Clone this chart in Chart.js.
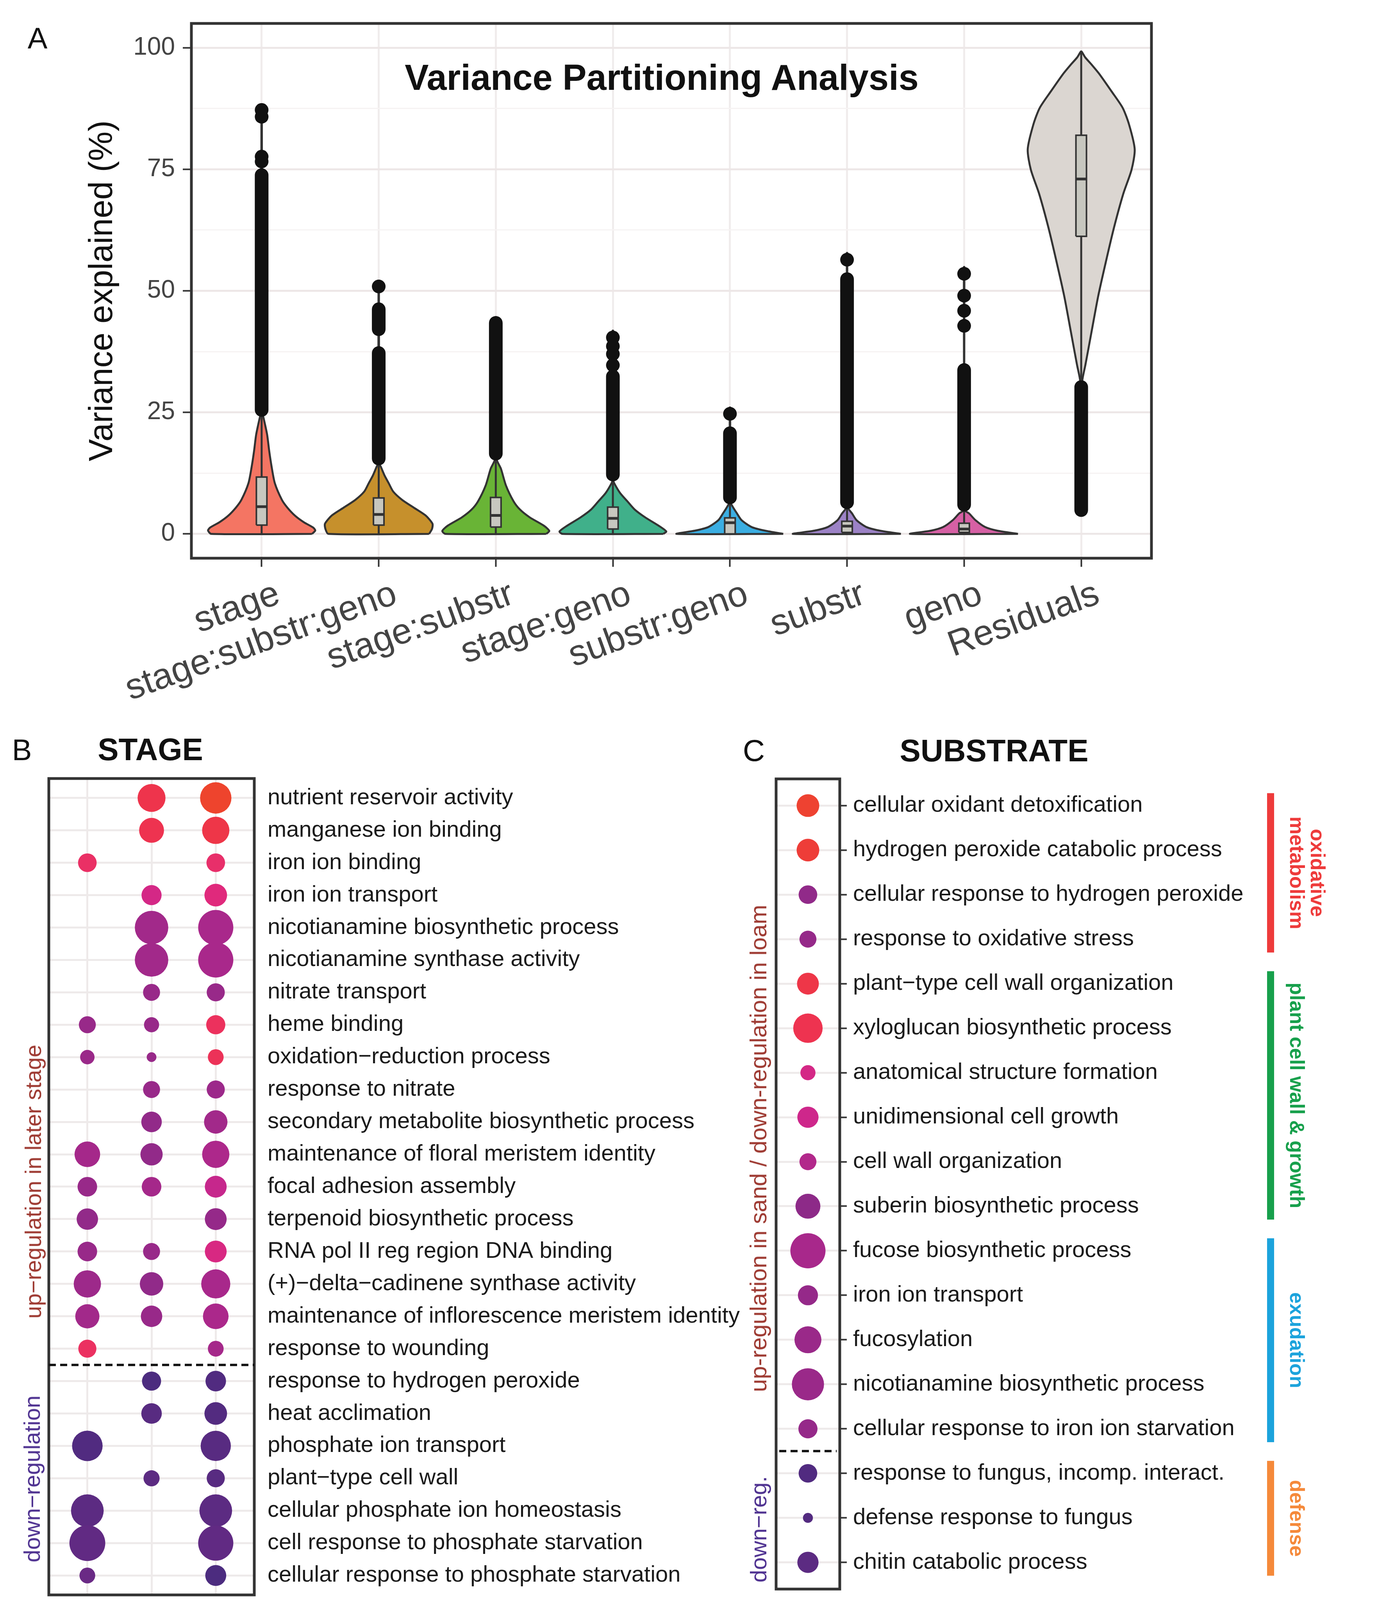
<!DOCTYPE html>
<html lang="en">
<head>
<meta charset="utf-8">
<title>Variance partitioning and GO enrichment</title>
<script src="https://cdn.jsdelivr.net/npm/chart.js@4.4.1/dist/chart.umd.min.js"></script>
<style>
  html, body { margin:0; padding:0; background:#ffffff; }
  #page { position:relative; width:3528px; height:4557px; overflow:hidden; background:#fff;
          font-family:'Liberation Sans', Arial, Helvetica, sans-serif; color:#111; }
  #page canvas { position:absolute; }
  .t { position:absolute; white-space:nowrap; line-height:1; transform:translate(-50%,-50%); }
</style>
</head>
<body>
<div id="page">
  <canvas id="chartA" width="3100" height="1850" style="left:0px;top:0px;width:3100px;height:1850px;"></canvas>
  <canvas id="chartB" width="2000" height="2600" style="left:0px;top:1900px;width:2000px;height:2600px;"></canvas>
  <canvas id="chartC" width="1628" height="2600" style="left:1900px;top:1900px;width:1628px;height:2600px;"></canvas>
</div>
<script>
// ======================= DATA : panel A (variance partitioning) =======================
const partitions = ['stage','stage:substr:geno','stage:substr','stage:geno','substr:geno','substr','geno','Residuals'];
// violin outlines: [variance explained %, half-width in category units], bottom to top
const violin_stage = [[0,0.43],[0.7,0.458],[1.3,0.44],[2.4,0.36],[3.7,0.287],[5.4,0.22],[7.0,0.173],[10.4,0.113],[13.7,0.086],[17.0,0.065],[20.4,0.047],[23.7,0.018],[25.0,0.006],[87.3,0.002]];
const violin_stage_substr_geno = [[0,0.43],[1.0,0.455],[2.1,0.459],[3.8,0.40],[5.4,0.30],[7.0,0.20],[8.7,0.124],[10.4,0.086],[12.0,0.05],[13.7,0.02],[14.5,0.006],[50.9,0.002]];
const violin_stage_substr = [[0,0.43],[0.6,0.457],[1.7,0.41],[3.4,0.29],[5.0,0.207],[6.7,0.152],[10.0,0.086],[13.4,0.044],[15.5,0.006],[44.6,0.002]];
const violin_stage_geno = [[0,0.43],[0.5,0.456],[1.7,0.39],[3.4,0.276],[5.0,0.187],[6.7,0.124],[8.4,0.062],[10.4,0.012],[11.0,0.004],[41.8,0.002]];
const violin_substr_geno = [[0,0.455],[0.66,0.30],[1.4,0.186],[2.8,0.10],[4.2,0.06],[5.6,0.023],[6.6,0.004],[26.0,0.002]];
const violin_substr = [[0,0.46],[0.66,0.28],[1.4,0.166],[2.8,0.082],[4.2,0.043],[5.6,0.004],[57.8,0.002]];
const violin_geno = [[0,0.46],[0.66,0.283],[1.4,0.18],[2.8,0.098],[4.2,0.043],[4.9,0.006],[54.9,0.002]];
const violin_residuals = [[4.9,0.002],[30.0,0.004],[32.0,0.012],[34.8,0.036],[41.8,0.09],[48.9,0.145],[55.9,0.21],[63.0,0.28],[70.0,0.36],[74.9,0.43],[79.1,0.457],[84.1,0.41],[87.6,0.355],[91.0,0.26],[94.6,0.155],[96.5,0.09],[98.0,0.035],[99.2,0.004]];
const boxQ1 = [1.8, 1.8, 1.4, 1.0, 0.0, 0.3, 0.3, 61.2];
const boxMedian = [5.6, 4.0, 3.8, 3.2, 2.3, 1.6, 1.0, 73.0];
const boxQ3 = [11.7, 7.4, 7.5, 5.5, 3.3, 2.6, 2.2, 82.0];
const whiskerLow = [0, 0, 0, 0, 0, 0, 0, 31.6];
const whiskerHigh = [24.5, 14.2, 15.5, 11.0, 6.6, 5.6, 4.9, 99.2];
// dense outlier columns [from, to] and isolated outliers
const outlierRuns = [[[25.5,73.8]], [[15.5,37.2],[42.1,46.2]], [[16.5,43.4]], [[12.2,32.4]], [[7.5,20.7]], [[6.5,52.4]], [[6.0,33.7]], [[4.9,30.2]]];
const outlierDots = [[76.6,77.6,85.8,87.2], [50.9], [], [34.7,37.0,38.6,40.4], [24.7], [56.4], [42.8,45.9,49.0,53.5], []];
const yMajorTicks = [0, 25, 50, 75, 100];
const yMinorTicks = [12.5, 37.5, 62.5, 87.5];

// ======================= DATA : panel B (STAGE) =======================
const stageTerms = [
  'nutrient reservoir activity','manganese ion binding','iron ion binding','iron ion transport',
  'nicotianamine biosynthetic process','nicotianamine synthase activity','nitrate transport','heme binding',
  'oxidation\u2212reduction process','response to nitrate','secondary metabolite biosynthetic process',
  'maintenance of floral meristem identity','focal adhesion assembly','terpenoid biosynthetic process',
  'RNA pol II reg region DNA binding','(+)\u2212delta\u2212cadinene synthase activity',
  'maintenance of inflorescence meristem identity','response to wounding',
  'response to hydrogen peroxide','heat acclimation','phosphate ion transport','plant\u2212type cell wall',
  'cellular phosphate ion homeostasis','cell response to phosphate starvation','cellular response to phosphate starvation'];
const stageComparisons = ['BBCH19 vs BBCH14','BBCH59 vs BBCH19','BBCH59 vs BBCH14'];
const hits_19v14 = [null,null,14,null,null,null,null,11,7,null,null,31,16,20,16,36,27,13, null,null,47,null,55,68,9];
const hits_59v19 = [38,29,null,17,58,58,11,8,2,11,18,22,16,null,11,25,20,null, 15,18,null,9.5,null,null,null];
const hits_59v14 = [50,36,14,23,65,65,13,15,9,13,25,36,21,21,21,42,31,9, 18,23,46,13,55,65,19];
// signed -log10 P (negative = down-regulation)
const logP_19v14 = [null,null,10,null,null,null,null,1.0,1.2,null,null,2.0,1.0,0.6,1.0,1.4,1.8,10.5, null,null,-5.5,null,-4,-3.5,-2.5];
const logP_59v19 = [13,12.5,null,6,1.8,1.8,1.0,1.0,1.0,1.0,0.6,0.6,2.0,null,1.0,0.5,1.0,null, -6.5,-4.5,null,-4,null,null,null];
const logP_59v14 = [17,13.5,9.5,7.5,2.3,2.3,1.0,11,11.5,1.3,1.8,2.6,4.5,0.8,6.5,2.2,2.4,2.0, -5.5,-5,-4.5,-4.5,-4,-3.5,-6.5];
const stageUpCount = 18;

// ======================= DATA : panel C (SUBSTRATE) =======================
const substrateTerms = ['cellular oxidant detoxification','hydrogen peroxide catabolic process','cellular response to hydrogen peroxide',
  'response to oxidative stress','plant\u2212type cell wall organization','xyloglucan biosynthetic process','anatomical structure formation',
  'unidimensional cell growth','cell wall organization','suberin biosynthetic process','fucose biosynthetic process','iron ion transport',
  'fucosylation','nicotianamine biosynthetic process','cellular response to iron ion starvation','response to fungus, incomp. interact.',
  'defense response to fungus','chitin catabolic process'];
const substrateHits = [23,23,14,11,21,43,8,19.5,11,29,65,17,35,53,15,14,2.2,19.5];
const substrateLogP = [16.5,15.5,0.5,0.8,13.5,12.5,6,5.2,3,0.2,2.2,0.8,1.2,1.2,0.8,-5.5,-5,-4];
const substrateUpCount = 15;
const groupNames = ['oxidative\nmetabolism','plant cell wall & growth','exudation','defense'];
const groupFirstRow = [0, 4, 10, 15];
const groupLastRow = [3, 9, 14, 17];

// ======================= legend scales =======================
const colorStopValues = [-6.8,-5,-2.5,0,2.5,5,7.5,10,12.5,15,17.2];
const colorStopHex = ['#4B2C7F','#532B80','#6A2A85','#8A2A88','#AC288B','#CC278C','#E0297C','#EA3065','#EE3350','#EE3A3C','#EE452C'];
const legendTicks = [-5, 0, 5, 10, 15];
const legendHits = [20, 40, 60];

// ======================= styles / helpers =======================
const FONT = "'Liberation Sans', Arial, Helvetica, sans-serif";
Chart.defaults.font.family = FONT;
Chart.defaults.color = '#222';
const violinFill = ['#F47563','#C6902C','#69B436','#40B08A','#3BAEE2','#9C82C6','#D660A4','#DBD6D1'];
const violinProfiles = [violin_stage, violin_stage_substr_geno, violin_stage_substr, violin_stage_geno, violin_substr_geno, violin_substr, violin_geno, violin_residuals];
const BOX_HW = 0.045;
const hitsToRadius = h => 4.9 * Math.sqrt(h) + 5.5;
function hexToRgb(h){ return [1,3,5].map(i => parseInt(h.slice(i, i+2), 16)); }
function colorFor(v){
  const xs = colorStopValues, cs = colorStopHex.map(hexToRgb);
  if (v <= xs[0]) return colorStopHex[0];
  if (v >= xs[xs.length-1]) return colorStopHex[xs.length-1];
  for (let i = 0; i < xs.length-1; i++) {
    if (v <= xs[i+1]) {
      const t = (v - xs[i]) / (xs[i+1] - xs[i]);
      const c = cs[i].map((a, k) => Math.round(a + (cs[i+1][k] - a) * t));
      return 'rgb(' + c.join(',') + ')';
    }
  }
}
function violinOutline(profile, c){
  const right = profile.map(([v, w]) => ({x: c + w, y: v}));
  const left = profile.slice().reverse().map(([v, w]) => ({x: c - w, y: v}));
  return right.concat(left, [right[0]]);
}
function boxOutline(c, q1, q3){
  return [{x:c-BOX_HW,y:q1},{x:c+BOX_HW,y:q1},{x:c+BOX_HW,y:q3},{x:c-BOX_HW,y:q3},{x:c-BOX_HW,y:q1}];
}

const framePlugin = { id:'frame', afterDatasetsDraw(chart, args, o){
  const a = chart.chartArea, ctx = chart.ctx;
  ctx.save(); ctx.strokeStyle = o.color || '#333'; ctx.lineWidth = o.width || 6;
  ctx.strokeRect(a.left, a.top, a.right - a.left, a.bottom - a.top); ctx.restore();
}};
const splitPlugin = { id:'splitLine', afterDatasetsDraw(chart, args, o){
  const y = chart.scales.y.getPixelForValue(o.value), a = chart.chartArea, ctx = chart.ctx;
  ctx.save(); ctx.strokeStyle = '#111'; ctx.lineWidth = 6; ctx.setLineDash([18, 11]);
  ctx.beginPath(); ctx.moveTo(a.left + (o.inset||0), y); ctx.lineTo(a.right - (o.inset||0), y); ctx.stroke(); ctx.restore();
}};
const compLabelPlugin = { id:'compLabels', afterDraw(chart, args, o){
  const ctx = chart.ctx, xs = chart.scales.x, a = chart.chartArea;
  ctx.save(); ctx.fillStyle = '#1a1a1a'; ctx.font = '58px ' + FONT; ctx.textAlign = 'left'; ctx.textBaseline = 'top';
  stageComparisons.forEach((lab, i) => {
    ctx.save(); ctx.translate(xs.getPixelForValue(i) + 8, a.bottom + 24); ctx.rotate(27 * Math.PI / 180);
    ctx.fillText(lab, 0, 0); ctx.restore();
  });
  ctx.restore();
}};
const groupColors = ['#EE3B3B','#17A04C','#1CA3DC','#F5893A'];
const groupPlugin = { id:'groupBars', afterDraw(chart, args, o){
  const ys = chart.scales.y, ctx = chart.ctx;
  ctx.save();
  groupNames.forEach((name, g) => {
    const y0 = ys.getPixelForValue(groupFirstRow[g] - 0.28), y1 = ys.getPixelForValue(groupLastRow[g] + 0.3);
    ctx.fillStyle = groupColors[g]; ctx.fillRect(o.barX, y0, o.barW, y1 - y0);
    const lines = name.split('\n'); const cy = (y0 + y1) / 2;
    ctx.font = 'bold 52px ' + FONT; ctx.textAlign = 'center'; ctx.textBaseline = 'middle';
    lines.forEach((ln, k) => {
      ctx.save(); ctx.translate(o.textX + (lines.length - 1 - k) * 53, cy); ctx.rotate(Math.PI / 2);
      ctx.fillText(ln, 0, 0); ctx.restore();
    });
  });
  ctx.restore();
}};

// ======================= Chart A =======================
const dsA = [];
partitions.forEach((name, c) => {
  dsA.push({ label: name + ' violin', data: violinOutline(violinProfiles[c], c), fill: 'shape', backgroundColor: violinFill[c],
             borderColor: '#333', borderWidth: 5, pointRadius: 0, tension: 0.25, order: 5 });
  dsA.push({ label: name + ' whisker', data: [{x:c, y:whiskerLow[c]}, {x:c, y:whiskerHigh[c]}], borderColor: '#333', borderWidth: 5,
             pointRadius: 0, fill: false, order: 4 });
  dsA.push({ label: name + ' box', data: boxOutline(c, boxQ1[c], boxQ3[c]), fill: 'shape', backgroundColor: '#C7C7BF',
             borderColor: '#333', borderWidth: 4, pointRadius: 0, tension: 0, order: 3 });
  dsA.push({ label: name + ' median', data: [{x:c-BOX_HW, y:boxMedian[c]}, {x:c+BOX_HW, y:boxMedian[c]}], borderColor: '#333',
             borderWidth: 7, pointRadius: 0, fill: false, order: 2 });
});
const runPts = [];
outlierRuns.forEach((runs, c) => runs.forEach(([a, b]) => { runPts.push({x:c, y:a}, {x:c, y:b}, {x:c, y:null}); }));
dsA.push({ label:'outlier runs', data: runPts, borderColor: '#111', borderWidth: 35, borderCapStyle: 'round', pointRadius: 0,
           fill: false, spanGaps: false, order: 1 });
const dotPts = [];
outlierDots.forEach((d, c) => d.forEach(v => dotPts.push({x:c, y:v})));
dsA.push({ label:'outliers', data: dotPts, showLine: false, pointRadius: 17.5, pointBackgroundColor: '#111', pointBorderWidth: 0, order: 1 });

new Chart(document.getElementById('chartA'), {
  type: 'line',
  data: { datasets: dsA },
  options: {
    responsive: false, animation: false, events: [], devicePixelRatio: 1,
    layout: { padding: { top: 60, right: 152, left: 0, bottom: 0 } },
    plugins: { legend: { display: false }, tooltip: { enabled: false }, frame: { color: '#333', width: 7 } },
    scales: {
      x: { type: 'linear', min: -0.6, max: partitions.length - 0.4,
        afterBuildTicks: s => { s.ticks = partitions.map((_, i) => ({ value: i })); },
        afterFit: s => { s.height = 421; },
        ticks: { autoSkip: false, minRotation: 20, maxRotation: 20, labelOffset: 43, padding: 16,
                 font: { size: 92 }, color: '#444', callback: v => partitions[v] },
        grid: { color: '#F0ECEC', lineWidth: 5, tickLength: 22, tickColor: '#333', tickWidth: 4 },
        border: { display: false } },
      y: { type: 'linear', min: -5, max: 105,
        afterBuildTicks: s => { s.ticks = yMajorTicks.concat(yMinorTicks).sort((a, b) => a - b).map(v => ({ value: v })); },
        afterFit: s => { s.width = 490; },
        ticks: { padding: 20, font: { size: 64 }, color: '#444', callback: v => yMajorTicks.includes(v) ? String(v) : '' },
        grid: { color: c => (c.tick && yMajorTicks.includes(c.tick.value)) ? '#EDE7E7' : '#F6F3F3',
                lineWidth: c => (c.tick && yMajorTicks.includes(c.tick.value)) ? 5 : 3,
                tickLength: 22, tickWidth: 4,
                tickColor: c => (c.tick && yMajorTicks.includes(c.tick.value)) ? '#333' : 'rgba(0,0,0,0)' },
        border: { display: false },
        title: { display: true, text: 'Variance explained (%)', font: { size: 85 }, color: '#111', padding: { top: 213, bottom: 0 } } }
    }
  },
  plugins: [framePlugin]
});

// ======================= Chart B =======================
const hitsB = [hits_19v14, hits_59v19, hits_59v14];
const logPB = [logP_19v14, logP_59v19, logP_59v14];
const dsB = stageComparisons.map((name, i) => {
  const pts = [], cols = [];
  stageTerms.forEach((term, r) => {
    if (hitsB[i][r] != null) { pts.push({ x: i, y: r, r: hitsToRadius(hitsB[i][r]) }); cols.push(colorFor(logPB[i][r])); }
  });
  return { label: name, data: pts, backgroundColor: cols, borderWidth: 0 };
});
new Chart(document.getElementById('chartB'), {
  type: 'bubble',
  data: { datasets: dsB },
  options: {
    responsive: false, animation: false, events: [], devicePixelRatio: 1,
    layout: { padding: { left: 125, top: 93, right: 0, bottom: 0 } },
    plugins: { legend: { display: false }, tooltip: { enabled: false }, frame: { color: '#333', width: 7 },
               splitLine: { value: stageUpCount - 0.5, inset: 0 } },
    scales: {
      x: { type: 'linear', min: -0.6, max: stageComparisons.length - 0.4,
        afterBuildTicks: s => { s.ticks = stageComparisons.map((_, i) => ({ value: i })); },
        afterFit: s => { s.height = 417; },
        ticks: { display: false },
        grid: { color: '#EEEAEA', lineWidth: 5, drawTicks: false }, border: { display: false } },
      y: { type: 'linear', position: 'right', reverse: true, min: -0.6, max: stageTerms.length - 0.4,
        afterBuildTicks: s => { s.ticks = stageTerms.map((_, i) => ({ value: i })); },
        afterFit: s => { s.width = 1349; },
        ticks: { autoSkip: false, padding: 34, font: { size: 58 }, color: '#1a1a1a', callback: v => stageTerms[v] },
        grid: { color: '#EEEAEA', lineWidth: 5, drawTicks: false }, border: { display: false } }
    }
  },
  plugins: [framePlugin, splitPlugin, compLabelPlugin]
});

// ======================= Chart C =======================
new Chart(document.getElementById('chartC'), {
  type: 'bubble',
  data: { datasets: [{ label: 'sand vs loam',
    data: substrateTerms.map((t, r) => ({ x: 0, y: r, r: hitsToRadius(substrateHits[r]) })),
    backgroundColor: substrateLogP.map(colorFor), borderWidth: 0 }] },
  options: {
    responsive: false, animation: false, events: [], devicePixelRatio: 1,
    layout: { padding: { left: 87, top: 94, right: 0, bottom: 432 } },
    plugins: { legend: { display: false }, tooltip: { enabled: false }, frame: { color: '#333', width: 7 },
               splitLine: { value: substrateUpCount - 0.5, inset: 8 }, groupBars: { barX: 1344, barW: 18, textX: 1417 } },
    scales: {
      x: { type: 'linear', display: false, min: -0.6, max: 0.6 },
      y: { type: 'linear', position: 'right', reverse: true, min: -0.6, max: substrateTerms.length - 0.4,
        afterBuildTicks: s => { s.ticks = substrateTerms.map((_, i) => ({ value: i })); },
        afterFit: s => { s.width = 1378; },
        ticks: { autoSkip: false, padding: 16, font: { size: 58 }, color: '#1a1a1a', callback: v => substrateTerms[v] },
        grid: { color: '#EEEAEA', lineWidth: 5, tickLength: 18, tickColor: '#333', tickWidth: 4 }, border: { display: false } }
    }
  },
  plugins: [framePlugin, splitPlugin, groupPlugin]
});

// ======================= text, headings and legend =======================
const page = document.getElementById('page');
function addText(txt, x, y, style, transform){
  const d = document.createElement('div'); d.className = 't'; d.textContent = txt;
  d.style.left = x + 'px'; d.style.top = y + 'px';
  Object.assign(d.style, style || {});
  if (transform) d.style.transform = transform;
  page.appendChild(d); return d;
}
const UP = '#9E3A32', DOWN = '#4E3190';
addText('A', 96, 98, { fontSize: '76px' });
addText('Variance Partitioning Analysis', 1694, 198, { fontSize: '92px', fontWeight: 'bold', color: '#111' });
addText('B', 56, 1920, { fontSize: '76px' });
addText('STAGE', 385, 1919, { fontSize: '80px', fontWeight: 'bold' });
addText('C', 1930, 1921, { fontSize: '78px' });
addText('SUBSTRATE', 2545, 1922, { fontSize: '80px', fontWeight: 'bold' });
addText('up\u2212regulation in later stage', 85, 3025, { fontSize: '58px', color: UP }, 'translate(-50%,-50%) rotate(-90deg)');
addText('down\u2212regulation', 82, 3786, { fontSize: '58px', color: DOWN }, 'translate(-50%,-50%) rotate(-90deg)');
addText('up-regulation in sand / down-regulation in loam', 1942, 2940, { fontSize: '60px', color: UP }, 'translate(-50%,-50%) rotate(-90deg)');
addText('down\u2212reg.', 1942, 3915, { fontSize: '58px', color: DOWN }, 'translate(-50%,-50%) rotate(-90deg)');

// legend box
const box = document.createElement('div');
Object.assign(box.style, { position: 'absolute', left: '1236px', top: '4154px', width: '1369px', height: '354px',
  border: '8px solid #333', boxSizing: 'border-box', background: '#fff' });
page.appendChild(box);
const cbL = 1556, cbW = 568, cbT = 4193, cbH = 116;
const vMin = colorStopValues[0], vMax = colorStopValues[colorStopValues.length - 1];
const vx = v => cbL + (v - vMin) / (vMax - vMin) * cbW;
const bar = document.createElement('div');
Object.assign(bar.style, { position: 'absolute', left: cbL + 'px', top: cbT + 'px', width: cbW + 'px', height: cbH + 'px',
  background: 'linear-gradient(to right, ' + colorStopValues.map((v, i) => colorStopHex[i] + ' ' + ((v - vMin) / (vMax - vMin) * 100).toFixed(2) + '%').join(', ') + ')' });
page.appendChild(bar);
legendTicks.forEach(v => {
  [cbT, cbT + cbH - 23].forEach(tp => {
    const m = document.createElement('div');
    Object.assign(m.style, { position: 'absolute', left: (vx(v) - 1.5) + 'px', top: tp + 'px', width: '3px', height: '23px', background: '#fff' });
    page.appendChild(m);
  });
  addText(String(Math.abs(v)), vx(v), 4361, { fontSize: '58px', color: '#111' });
});
addText('\u2212log10 P', 1833, 4254, { fontSize: '52px', fontWeight: 'bold', color: '#fff' });
const dash = document.createElement('div');
Object.assign(dash.style, { position: 'absolute', left: (vx(0) - 2) + 'px', top: '4395px', width: '0px', height: '73px', borderLeft: '4px dashed #111' });
page.appendChild(dash);
addText('down\u2212regulation', vx(0) - 20, 4440, { fontSize: '58px', color: DOWN }, 'translate(-100%,-50%)');
addText('up\u2212regulation', vx(0) + 27, 4440, { fontSize: '58px', color: UP }, 'translate(0,-50%)');
addText('Hits [%]', 2420, 4246, { fontSize: '52px', fontWeight: 'bold', color: '#111' });
let cx = 2305;
legendHits.forEach((h, i) => {
  const r = hitsToRadius(h);
  if (i > 0) cx += 17;
  cx += r;
  const c = document.createElement('div');
  Object.assign(c.style, { position: 'absolute', left: (cx - r) + 'px', top: (4347 - r) + 'px', width: (2 * r) + 'px', height: (2 * r) + 'px',
    borderRadius: '50%', background: '#111' });
  page.appendChild(c);
  addText(String(h), cx, 4349, { fontSize: Math.round(r * 1.15) + 'px', fontWeight: 'bold', color: '#fff', letterSpacing: '-2px' });
  cx += r;
});
</script>
</body>
</html>
